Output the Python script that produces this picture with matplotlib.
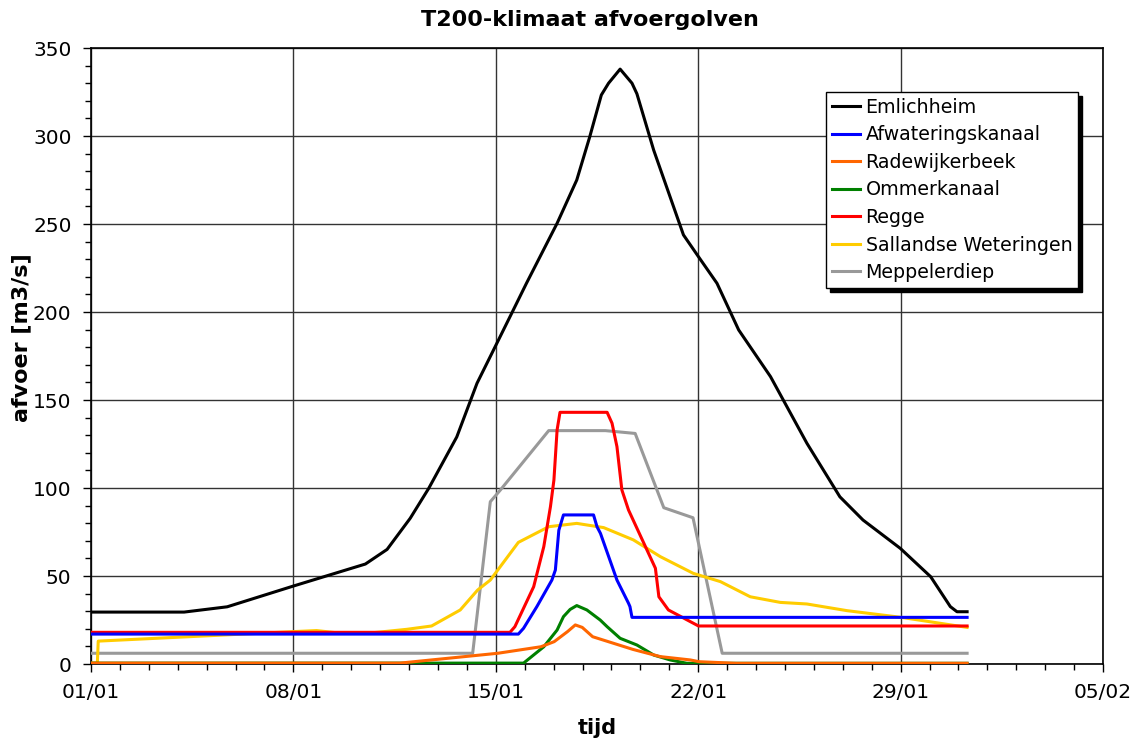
import numpy as np
import pandas as pd
import matplotlib
matplotlib.use('Agg')
import matplotlib.pyplot as plt
import matplotlib.dates as mdates
from matplotlib.ticker import MultipleLocator

plt.rcParams['font.family'] = ['DejaVu Sans']

# tijd in dagen vanaf 01/01, afvoer in m3/s
emlichheim_t = [0, 3.22, 4.71, 7.0, 9.49, 10.24, 11.04, 11.68, 12.65, 13.35, 14.09, 14.49, 15.06,
                16.12, 16.80, 17.25, 17.65, 17.90, 18.30, 18.71, 18.88, 19.46, 20.49, 21.01,
                21.65, 22.40, 23.50, 24.76, 25.90, 26.70, 27.99, 29.04, 29.72, 29.95, 30.3]
emlichheim_q = [29.5, 29.5, 32.5, 44.3, 56.8, 65.1, 82.8, 99.8, 129, 159.5, 184, 197.3, 216.3,
                250.4, 275, 299.6, 323.3, 330, 338, 330, 324, 292, 243.8, 231.4,
                216.3, 189.8, 163.3, 125.4, 95, 81.8, 65.7, 49.6, 32.6, 29.7, 29.7]

afwatering_t = [0, 14.78, 14.96, 15.42, 15.94, 16.06, 16.18, 16.34, 17.38, 17.50, 17.62,
                18.19, 18.59, 18.64, 18.71, 30.3]
afwatering_q = [17, 17, 20.3, 32.6, 47.7, 53.4, 76, 84.7, 84.7, 78, 74.2,
                47.7, 34.5, 32.6, 26.5, 26.5]

radewijk_t = [0, 10.68, 14.07, 15.56, 16.02, 16.48, 16.75, 16.99, 17.35, 18.74, 19.69, 20.73,
              21.03, 22.32, 30.3]
radewijk_q = [0.5, 0.5, 6.1, 9.8, 12.7, 18.4, 22.2, 20.8, 15.5, 8.3, 4.2, 2.3,
              1.3, 0.4, 0.4]

ommer_t = [0, 14.96, 15.66, 16.12, 16.34, 16.57, 16.80, 17.15, 17.61, 17.85, 18.30, 18.88,
           19.46, 20.03, 20.61, 30.3]
ommer_q = [0.5, 0.5, 9.8, 19.3, 26.9, 31, 33.2, 30.7, 25, 21.2, 14.6, 10.8,
           5.1, 2.3, 0.4, 0.4]

regge_t = [0, 14.49, 14.66, 15.31, 15.66, 15.89, 16.01, 16.12, 16.22, 17.85, 18.02, 18.19,
           18.36, 18.59, 19.52, 19.64, 19.97, 21.01, 30.3]
regge_q = [18, 18, 21.2, 43.9, 66.7, 89.4, 104.5, 133, 143, 143, 136.8, 123.5,
           98.9, 87.5, 54.4, 38.2, 30.7, 21.6, 21.6]

salland_t = [0, 0.22, 0.25, 7.0, 7.8, 8.69, 9.77, 10.92, 11.78, 12.77, 13.37, 13.81, 14.78,
             15.83, 16.80, 17.73, 18.76, 19.69, 20.83, 21.77, 22.80, 23.84, 24.76, 26.15,
             28.02, 30.3]
salland_q = [0.5, 0.5, 13, 18.4, 19, 17.4, 17.8, 19.7, 21.6, 30.7, 42, 47.7, 69.1,
             78, 79.9, 77.5, 70.5, 61, 51.5, 46.8, 38.2, 35, 34.1, 30.3,
             26.5, 20.8]

meppel_t = [0, 13.20, 13.81, 14.16, 15.83, 17.79, 18.82, 19.81, 20.82, 21.83, 30.3]
meppel_q = [6.1, 6.1, 92.2, 98.9, 132.6, 132.6, 131, 88.8, 83.1, 6.1, 6.1]

series = [
    ('Emlichheim', emlichheim_t, emlichheim_q, 'black'),
    ('Afwateringskanaal', afwatering_t, afwatering_q, '#0000ff'),
    ('Radewijkerbeek', radewijk_t, radewijk_q, '#ff6600'),
    ('Ommerkanaal', ommer_t, ommer_q, '#008000'),
    ('Regge', regge_t, regge_q, '#ff0000'),
    ('Sallandse Weteringen', salland_t, salland_q, '#ffcc00'),
    ('Meppelerdiep', meppel_t, meppel_q, '#999999'),
]

start = pd.Timestamp('2000-01-01')

def to_dates(days):
    return start + pd.to_timedelta(np.array(days), unit='D')

fig = plt.figure(figsize=(11.41, 7.4), dpi=100)
ax = fig.add_axes([91 / 1141, 76 / 740, 1012 / 1141, 616 / 740])

# eerste reeks bovenop tekenen
for i, (name, t, q, c) in enumerate(series):
    ax.plot(to_dates(t), q, color=c, lw=2.2, label=name, zorder=10 - i)

ax.set_xlim(start, start + pd.Timedelta(days=35))
ax.set_ylim(0, 350)

ax.set_xticks(pd.date_range(start, periods=6, freq='7D'))
ax.xaxis.set_minor_locator(mdates.DayLocator())
ax.xaxis.set_major_formatter(mdates.DateFormatter('%d/%m'))
ax.yaxis.set_major_locator(MultipleLocator(50))
ax.yaxis.set_minor_locator(MultipleLocator(10))

ax.tick_params(which='major', direction='out', length=6, width=1, labelsize=14.5, pad=8)
ax.tick_params(which='minor', direction='out', length=4, width=1)
ax.grid(which='major', color='#333333', lw=1)
ax.set_axisbelow(True)
for s in ax.spines.values():
    s.set_color('black')
    s.set_linewidth(1.2)

ax.set_xlabel('tijd', fontsize=15, fontweight='bold', labelpad=11)
ax.set_ylabel('afvoer [m3/s]', fontsize=16, fontweight='bold')
ax.yaxis.set_label_coords(-(91 - 31) / 1012, (664 - 338) / 616)
fig.text(590 / 1141, 1 - 20 / 740, 'T200-klimaat afvoergolven', fontsize=16,
         fontweight='bold', ha='center', va='center')

leg = ax.legend(loc='upper left', bbox_to_anchor=(0.7263, 0.9286), fontsize=13.7,
                frameon=True, fancybox=False, framealpha=1, edgecolor='black',
                handlelength=1.5, handletextpad=0.28, labelspacing=0.45,
                borderpad=0.3, borderaxespad=0,
                shadow={'color': 'black', 'alpha': 1, 'ox': 3, 'oy': -3})
leg.get_frame().set_linewidth(1)
leg.set_zorder(20)

fig.savefig('out.png', dpi=100)
